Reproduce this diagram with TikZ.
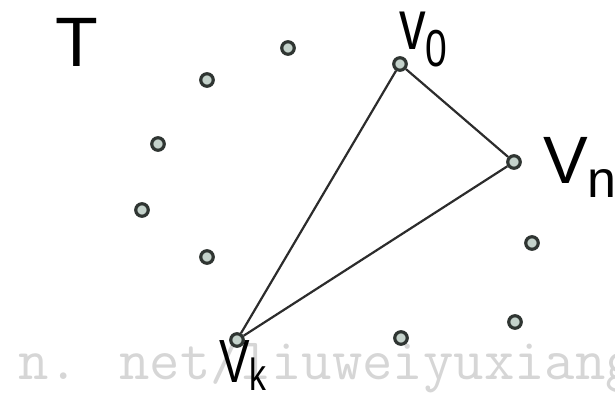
\documentclass[tikz,border=0pt]{standalone}
\usepackage{fontspec}
\setmainfont{Liberation Sans}
\usepackage{tikz}
\definecolor{ptline}{HTML}{2F3532}
\definecolor{ptfill}{HTML}{C4D2CB}
\definecolor{edgegray}{HTML}{2C2C2C}
\definecolor{markgray}{HTML}{D6D6D6}
\newcommand{\lblsize}[1]{\fontsize{#1}{#1}\selectfont}

\begin{document}
\begin{tikzpicture}[
  x=1pt,y=-1pt,
  pt/.style={circle,draw=ptline,fill=ptfill,line width=3.2pt,minimum size=12.5pt,inner sep=0pt},
  lbl/.style={inner sep=0pt,anchor=base west,text=black},
  edge/.style={draw=edgegray,line width=2.2pt}]
\useasboundingbox (0,0) rectangle (615,393);
% watermark
\node[inner sep=0pt,anchor=base west,text=markgray,font=\ttfamily\lblsize{59}] (mark) at (18,379) {n. net/liuweiyuxiang};
% set T
\node[lbl,anchor=base,font=\lblsize{70}] (tname) at (77,67) {T};
% points of T
\node[pt] (t1) at (288,48) {};
\node[pt] (t2) at (207,80) {};
\node[pt] (t3) at (158,144) {};
\node[pt] (t4) at (142,210) {};
\node[pt] (t5) at (207,257) {};
\node[pt] (t6) at (532,243) {};
\node[pt] (t7) at (515,322) {};
\node[pt] (t8) at (401,338) {};
\node[pt] (v0) at (400,64) {};
\node[pt] (vn) at (514,162) {};
\node[pt] (vk) at (237,340) {};
% triangle
\draw[edge] (v0) -- (vn);
\draw[edge] (vn) -- (vk);
\draw[edge] (vk) -- (v0);
% labels
\node[lbl,font=\lblsize{71}] (v0lbl) at (399,50) {\scalebox{0.75}[1]{v\raisebox{-17pt}{\lblsize{52}0}}};
\node[lbl,font=\lblsize{67}] (vnlbl) at (543,183) {V\raisebox{-14pt}{\lblsize{52}n}};
\node[lbl,font=\lblsize{61}] (vklbl) at (219,382) {\scalebox{0.75}[1]{V\raisebox{-8pt}{\lblsize{45}k}}};
\end{tikzpicture}
\end{document}
